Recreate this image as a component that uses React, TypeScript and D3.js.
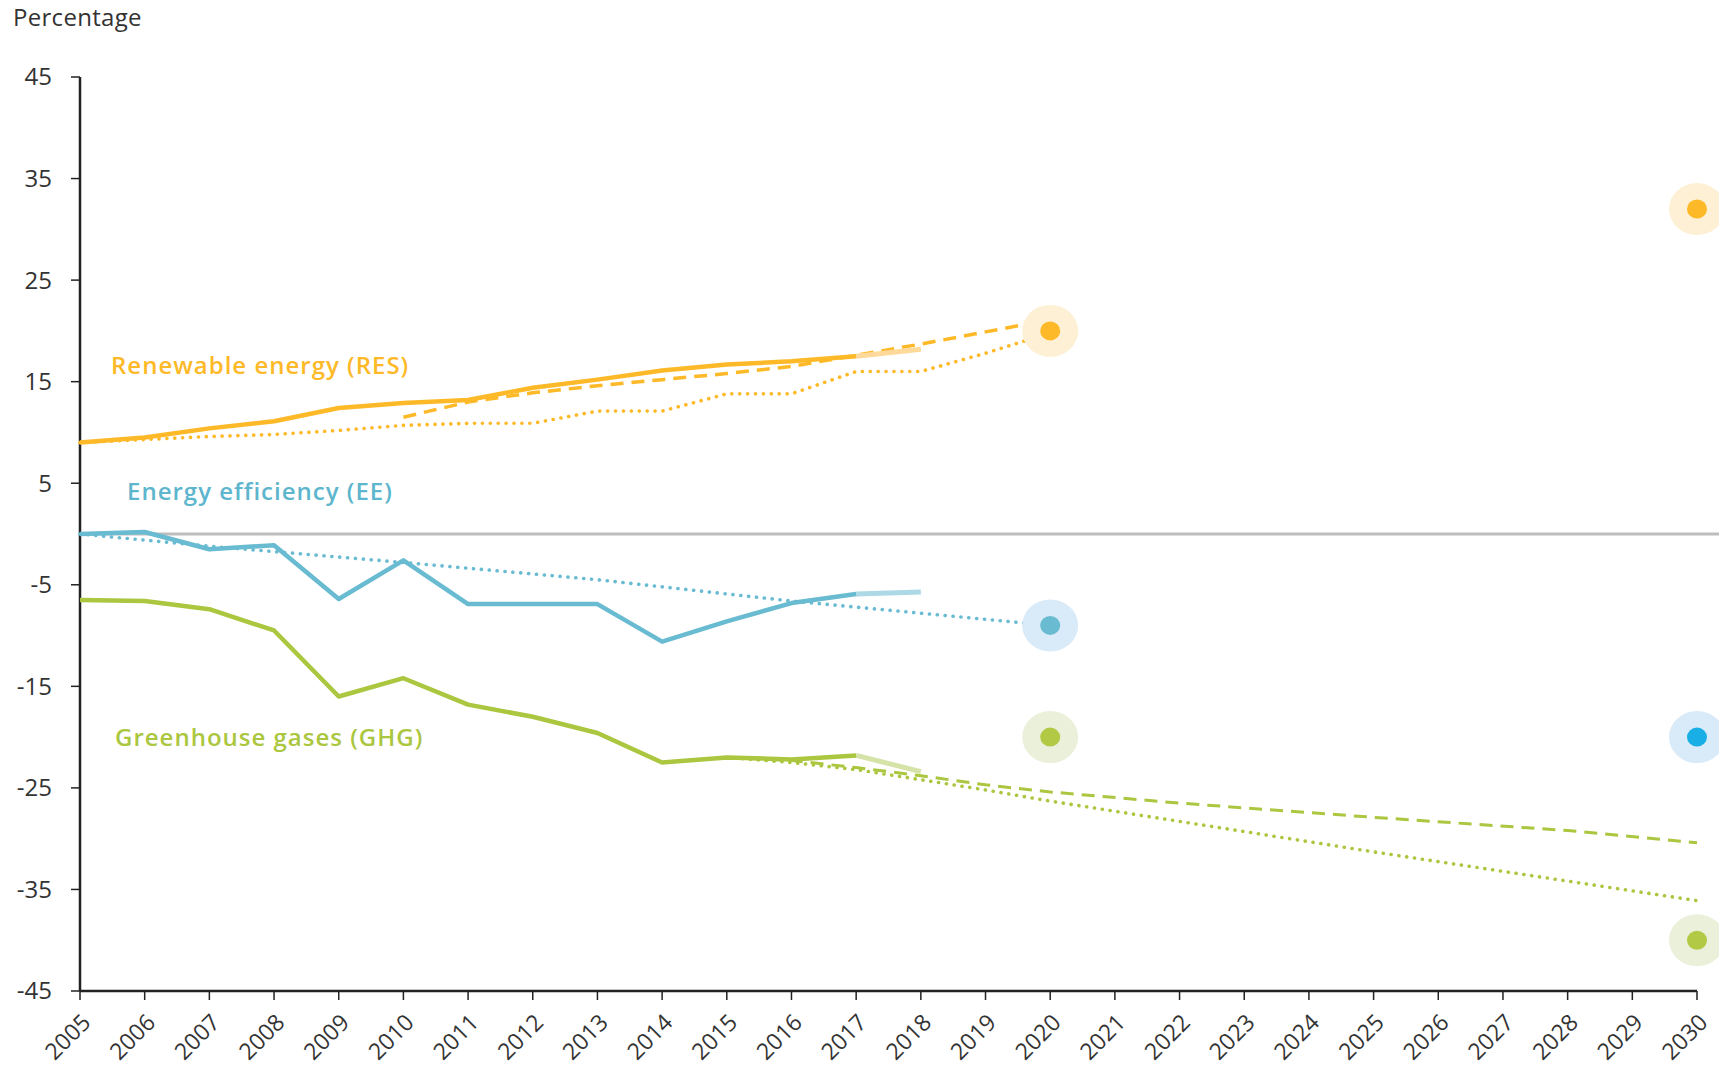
import React from 'react'
import * as d3 from 'd3'

const years = d3.range(2005, 2031)
const yTicks = [45, 35, 25, 15, 5, -5, -15, -25, -35, -45]

// historic values (solid) 2005-2017, proxy 2018 (light)
const resYears = [2005, 2006, 2007, 2008, 2009, 2010, 2011, 2012, 2013, 2014, 2015, 2016, 2017]
const resValues = [9.0, 9.5, 10.4, 11.1, 12.4, 12.9, 13.2, 14.4, 15.2, 16.1, 16.7, 17.0, 17.5]
const resProxy = [17.5, 18.2]
const resPlanYears = [2010, 2011, 2012, 2013, 2014, 2015, 2016, 2017, 2018, 2019, 2020]
const resPlanValues = [11.5, 13.0, 13.9, 14.6, 15.2, 15.8, 16.5, 17.6, 18.7, 19.9, 21.1]
const resTrajYears = [2005, 2006, 2007, 2008, 2009, 2010, 2011, 2012, 2013, 2014, 2015, 2016, 2017, 2018, 2019, 2020]
const resTrajValues = [9.0, 9.3, 9.6, 9.8, 10.2, 10.7, 10.9, 10.9, 12.1, 12.1, 13.8, 13.8, 16.0, 16.0, 17.8, 19.8]

const eeYears = resYears
const eeValues = [0, 0.2, -1.5, -1.1, -6.4, -2.6, -6.9, -6.9, -6.9, -10.6, -8.6, -6.8, -5.9]
const eeProxy = [-5.9, -5.7]
const eeTrajYears = [2005, 2007, 2010, 2013, 2016, 2018, 2020]
const eeTrajValues = [0, -1.2, -2.8, -4.5, -6.6, -7.8, -9.0]

const ghgYears = resYears
const ghgValues = [-6.5, -6.6, -7.4, -9.5, -16.0, -14.2, -16.8, -18.0, -19.6, -22.5, -22.0, -22.2, -21.8]
const ghgProxy = [-21.8, -23.4]
const ghgWemYears = [2015, 2016, 2017, 2018, 2019, 2020, 2022, 2025, 2028, 2030]
const ghgWemValues = [-22.0, -22.3, -23.0, -23.8, -24.7, -25.4, -26.5, -27.9, -29.2, -30.4]
const ghgWamYears = [2015, 2016, 2017, 2018, 2019, 2020, 2025, 2030]
const ghgWamValues = [-22.0, -22.5, -23.2, -24.2, -25.2, -26.3, -31.3, -36.1]

const targets = [
  { year: 2020, value: 20, dot: '#fdb927', halo: '#fef0d4' },
  { year: 2030, value: 32, dot: '#fdb927', halo: '#fef0d4' },
  { year: 2020, value: -9, dot: '#68bbd0', halo: '#d9eaf8' },
  { year: 2030, value: -20, dot: '#19afe6', halo: '#d9eaf8' },
  { year: 2020, value: -20, dot: '#b1c944', halo: '#eaf0d9' },
  { year: 2030, value: -40, dot: '#b1c944', halo: '#eaf0d9' },
]

const ORANGE = '#fdb927'
const TEAL = '#68bbd0'
const GREEN = '#abc63f'

const font = "'Open Sans', sans-serif"

export default function App() {
  const W = 1719
  const H = 1068
  const x = d3.scaleLinear().domain([2005, 2030]).range([80, 1697])
  const y = d3.scaleLinear().domain([-45, 45]).range([991, 77])
  const line = d3.line<[number, number]>().x(d => x(d[0])).y(d => y(d[1]))
  const zip = (xs: number[], vs: number[]) => xs.map((v, i) => [v, vs[i]] as [number, number])

  const dots = '0.1 7.8'
  const paths = [
    { d: zip(resTrajYears, resTrajValues), c: ORANGE, w: 3.6, dash: dots },
    { d: zip(resPlanYears, resPlanValues), c: ORANGE, w: 3.5, dash: '13 8' },
    { d: zip([2017, 2018], resProxy), c: '#fed999', w: 5 },
    { d: zip(resYears, resValues), c: ORANGE, w: 4.5 },
    { d: zip(eeTrajYears, eeTrajValues), c: TEAL, w: 3.6, dash: dots },
    { d: zip([2017, 2018], eeProxy), c: '#acd9e5', w: 5 },
    { d: zip(eeYears, eeValues), c: TEAL, w: 4.5 },
    { d: zip(ghgWamYears, ghgWamValues), c: GREEN, w: 3.6, dash: dots },
    { d: zip(ghgWemYears, ghgWemValues), c: GREEN, w: 3, dash: '13 8' },
    { d: zip([2017, 2018], ghgProxy), c: '#d6e3a8', w: 5 },
    { d: zip(ghgYears, ghgValues), c: GREEN, w: 4.5 },
  ]

  return (
    <svg width={W} height={H} style={{ position: 'absolute', left: 0, top: 0, background: '#fff' }} fontFamily={font}>
      <text x={13} y={26} fontSize={24} letterSpacing={0.3} fill="#333">Percentage</text>

      {/* zero line */}
      <line x1={x(2005)} x2={W} y1={y(0)} y2={y(0)} stroke="#bdbdbf" strokeWidth={3} />

      {/* y axis */}
      <line x1={x(2005)} x2={x(2005)} y1={y(45)} y2={y(-45)} stroke="#222" strokeWidth={2.5} />
      {yTicks.map(t => (
        <g key={t}>
          <line x1={x(2005) - 9} x2={x(2005)} y1={y(t)} y2={y(t)} stroke="#222" strokeWidth={1.5} />
          <text x={52} y={y(t)} dy="0.35em" textAnchor="end" fontSize={24} fill="#333">{t}</text>
        </g>
      ))}

      {/* x axis */}
      <line x1={x(2005)} x2={x(2030)} y1={y(-45)} y2={y(-45)} stroke="#222" strokeWidth={2.5} />
      {years.map(yr => (
        <g key={yr}>
          <line x1={x(yr)} x2={x(yr)} y1={y(-45)} y2={y(-45) + 9} stroke="#222" strokeWidth={1.5} />
          <text
            transform={`translate(${x(yr) + 12},${y(-45) + 33}) rotate(-45)`}
            textAnchor="end"
            fontSize={23}
            fill="#333"
          >{yr}</text>
        </g>
      ))}

      {paths.map((p, i) => (
        <path
          key={i}
          d={line(p.d) || ''}
          fill="none"
          stroke={p.c}
          strokeWidth={p.w}
          strokeDasharray={p.dash}
          strokeLinecap={p.dash === dots ? 'round' : 'butt'}
          strokeLinejoin="round"
        />
      ))}

      {targets.map((t, i) => (
        <g key={i}>
          <ellipse cx={x(t.year)} cy={y(t.value)} rx={28} ry={26} fill={t.halo} />
          <ellipse cx={x(t.year)} cy={y(t.value)} rx={10} ry={9.5} fill={t.dot} />
        </g>
      ))}

      <text x={111} y={366} dy="0.35em" fontSize={24} fontWeight={600} letterSpacing={1} fill={ORANGE}>Renewable energy (RES)</text>
      <text x={127} y={492} dy="0.35em" fontSize={24} fontWeight={600} letterSpacing={1} fill="#5db6cd">Energy efficiency (EE)</text>
      <text x={115} y={738} dy="0.35em" fontSize={24} fontWeight={600} letterSpacing={1} fill={GREEN}>Greenhouse gases (GHG)</text>
    </svg>
  )
}
